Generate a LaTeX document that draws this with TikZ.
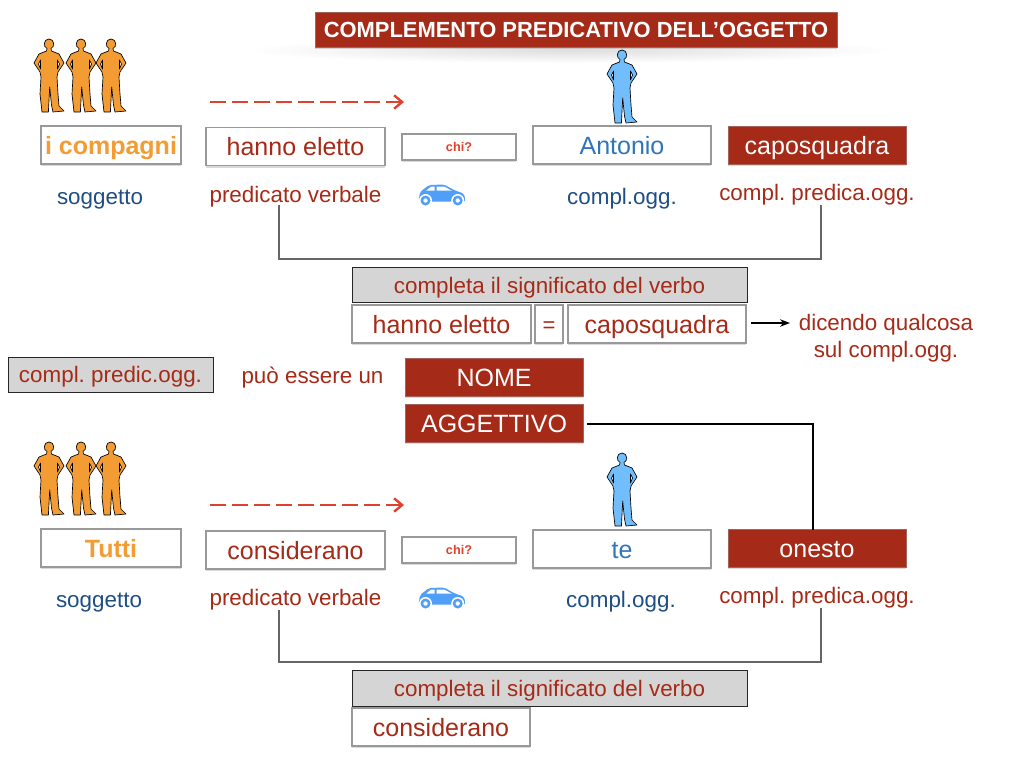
\documentclass[tikz,border=0pt]{standalone}
\usepackage{fontspec}
\setmainfont{Liberation Sans}
\usetikzlibrary{arrows.meta,shadows}
\frenchspacing

\def\px{0.75pt}
\definecolor{brick}{HTML}{A52A17}
\definecolor{navy}{HTML}{1F4E85}
\definecolor{skyblue}{HTML}{2F75BB}
\definecolor{carblue}{HTML}{4F9EF8}
\definecolor{orangeman}{HTML}{F39C33}
\definecolor{blueman}{HTML}{72BDFB}
\definecolor{panel}{HTML}{D6D5D5}
\definecolor{dashred}{HTML}{E0402E}

\tikzset{
    txt/.style={font=\fontsize{16.8}{20}\selectfont,inner sep=0pt,text height=12pt,text depth=0pt},
    box/.style={draw=black!40,line width=0.9pt,fill=white,inner sep=0pt,
        font=\fontsize{18.75}{22}\selectfont,text height=13.5pt,text depth=0pt,
        minimum height=38*\px,
        drop shadow={shadow xshift=0pt,shadow yshift=-1.8pt,opacity=0.3}},
    redbox/.style={box,draw=brick!75!black!70,line width=0.6pt,fill=brick,text=white},
    chibox/.style={box,text=dashred,font=\bfseries\fontsize{9.5}{11}\selectfont,text height=7pt,
        minimum width=114*\px,minimum height=26*\px},
    graybox/.style={draw=black!85,line width=0.6pt,fill=panel,text=brick,inner sep=0pt,
        font=\fontsize{16.8}{20}\selectfont,text height=12pt,text depth=0pt,minimum height=35*\px},
    bracket/.style={draw=black!60,line width=1.5pt},
    dasharrow/.style={dashred,line width=1.8pt,dash pattern=on 12pt off 4.5pt,
        -{Straight Barb[length=6pt,width=10pt]}},
    person/.pic={
        \path[pic actions,even odd rule,line width=0.5pt,line join=round]
            (-2,9.5) .. controls (-6,8) and (-5.5,0) .. (0,0)
            .. controls (5.5,0) and (6,8) .. (2,9.5) -- (2.5,12) -- (10,15)
            -- (15,24) -- (9,33) -- (8,38) -- (9,55) -- (10,67) -- (15,72)
            -- (4,73) -- (2.5,66) -- (0.7,48) -- (-0.6,73) -- (-7,73)
            -- (-9,55) -- (-8,38) -- (-9,33) -- (-15,24) -- (-10,15)
            -- (-2.5,12) -- cycle
            (-8.5,21) -- (-10.5,25) -- (-8.5,30) -- cycle
            (8.5,21) -- (10.5,25) -- (8.5,30) -- cycle;
    },
    car/.pic={
        \fill[carblue,rounded corners=1.5pt] (-23.5,6.5) -- (-22,-3) -- (-13,-10)
            -- (2,-10.5) -- (13,-4.5) -- (22,-1.5) -- (23.5,6.5) -- cycle;
        \fill[white] (-11,-8.3) -- (-7.5,-8.3) -- (-7.5,-4.3) -- (-16,-4.3) -- cycle;
        \fill[white] (-5.5,-8.5) -- (2,-8.5) -- (10,-4.3) -- (-5.5,-4.3) -- cycle;
        \foreach \wx in {-16.5,15.7} {
            \fill[white] (\wx,5.5) circle (6.5*\px);
            \fill[carblue] (\wx,5.5) circle (5*\px);
            \fill[white] (\wx,5.5) circle (2.2*\px);
        }
    }
}

\begin{document}
\begin{tikzpicture}[x=0.75pt,y=-0.75pt,>=Stealth]
\useasboundingbox (0,0) rectangle (1024,768);

% === Title ===
\shade[inner color=black!13,outer color=white] (570,50) ellipse [x radius=325,y radius=13];
\node[redbox,font=\bfseries\fontsize{16.45}{19}\selectfont,text height=11.8pt,minimum width=522*\px,minimum height=35*\px] (title) at (576,29.5) {COMPLEMENTO PREDICATIVO DELL’OGGETTO};

% === Top sentence ===
\foreach \mx in {49,81,111} {
    \pic[fill=orangeman,draw=black] at (\mx,39) {person};
}
\pic[fill=blueman,draw=black] at (622,50) {person};

\coordinate (dashA) at (210,102);
\coordinate (dashB) at (404,102);
\draw[dasharrow] (dashA) -- (dashB);

\node[box,text=orangeman,font=\bfseries\fontsize{18.75}{22}\selectfont,minimum width=140*\px] (subjA) at (111,145) {i compagni};
\node[box,text=brick,minimum width=179*\px] (verbA) at (295.5,146.5) {hanno eletto};
\node[chibox] (chiA) at (459,147) {chi?};
\node[box,text=skyblue,minimum width=178*\px] (objA) at (622,145) {Antonio};
\node[redbox,minimum width=178*\px] (predA) at (817,145) {caposquadra};

\node[txt,text=navy] (subjlabA) at (100,196) {soggetto};
\node[txt,text=brick] (verblabA) at (295.5,194.5) {predicato verbale};
\pic at (442,195) {car};
\node[txt,text=navy] (objlabA) at (622,196) {compl.ogg.};
\node[txt,text=brick] (predlabA) at (817,192) {compl. predica.ogg.};

\coordinate (brkAl) at (279,205);
\coordinate (brkAr) at (821,205);
\draw[bracket] (brkAl) |- (550,259) -| (brkAr);

% === Middle block ===
\node[graybox,minimum width=395*\px] (meanA) at (549.5,285) {completa il significato del verbo};
\node[box,text=brick,minimum width=179*\px] (verbB) at (441.5,324) {hanno eletto};
\node[box,text=brick,font=\fontsize{16.5}{19}\selectfont,text height=12pt,minimum width=28*\px] (equal) at (549,324) {=};
\node[box,text=brick,minimum width=178*\px] (predB) at (657,324) {caposquadra};
\node[txt,text=brick] (sayingA) at (886,322) {dicendo qualcosa};
\node[txt,text=brick] (sayingB) at (886,349) {sul compl.ogg.};
\coordinate (arrA) at (751,323);
\coordinate (arrB) at (790,323);
\draw[->,line width=1pt] (arrA) -- (arrB);

\node[graybox,minimum width=205*\px] (define) at (110.5,374.5) {compl. predic.ogg.};
\node[txt,text=brick] (maybe) at (312.5,375) {può essere un};
\node[redbox,minimum width=178*\px] (noun) at (494,377) {NOME};
\node[redbox,minimum width=178*\px] (adj) at (494,423) {AGGETTIVO};

% === Bottom sentence ===
\foreach \mx in {49,81,111} {
    \pic[fill=orangeman,draw=black] at (\mx,442) {person};
}
\pic[fill=blueman,draw=black] at (622,453) {person};

\coordinate (dashC) at (210,505);
\coordinate (dashD) at (404,505);
\draw[dasharrow] (dashC) -- (dashD);

\node[box,text=orangeman,font=\bfseries\fontsize{18.75}{22}\selectfont,minimum width=140*\px] (subjC) at (111,548) {Tutti};
\node[box,text=brick,minimum width=179*\px] (verbC) at (295.5,550) {considerano};
\node[chibox] (chiC) at (459,550) {chi?};
\node[box,text=skyblue,minimum width=178*\px] (objC) at (622,549) {te};
\node[redbox,minimum width=178*\px] (predC) at (817,548) {onesto};

\coordinate (adjA) at (587,424);
\coordinate (adjB) at (813,530);
\draw[line width=1.5pt] (adjA) -| (adjB);

\node[txt,text=navy] (subjlabC) at (99,599) {soggetto};
\node[txt,text=brick] (verblabC) at (295.5,597.5) {predicato verbale};
\pic at (442,598) {car};
\node[txt,text=navy] (objlabC) at (621,599) {compl.ogg.};
\node[txt,text=brick] (predlabC) at (817,595) {compl. predica.ogg.};

\coordinate (brkCl) at (279,610);
\coordinate (brkCr) at (821,608);
\draw[bracket] (brkCl) |- (550,662) -| (brkCr);

\node[graybox,minimum width=395*\px,minimum height=36*\px] (meanC) at (549.5,688) {completa il significato del verbo};
\node[box,text=brick,minimum width=178*\px] (verbD) at (441,727) {considerano};
\end{tikzpicture}
\end{document}
